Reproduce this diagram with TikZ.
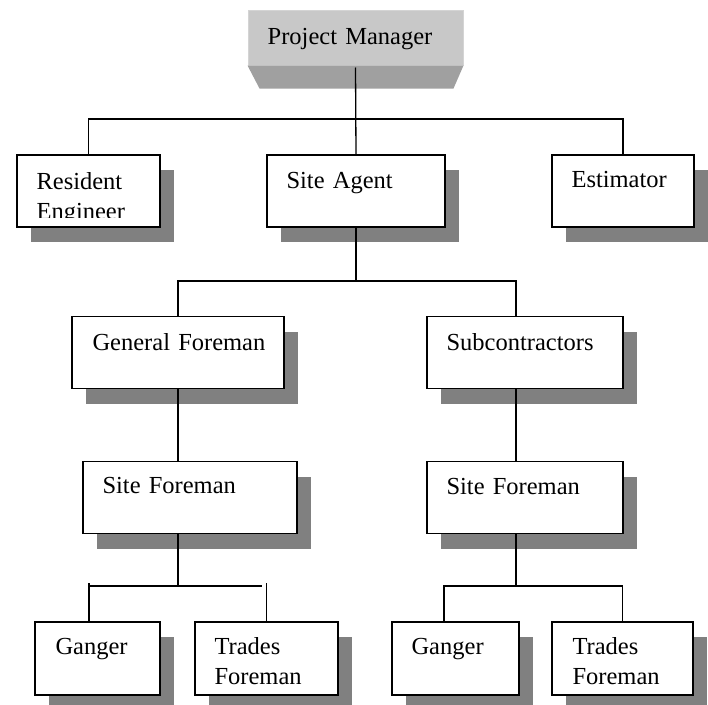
\documentclass[tikz,border=0pt]{standalone}
\usepackage{fontspec}
\setmainfont{Liberation Serif}
\usetikzlibrary{shadows}
\definecolor{shadowgray}{HTML}{808080}
\definecolor{pmfill}{HTML}{C8C8C8}
\definecolor{pmedge}{HTML}{D4D4D4}
\definecolor{pmshade}{HTML}{A0A0A0}
\begin{document}
\begin{tikzpicture}[x=1pt,y=-1pt,
  box/.style={draw=black, line width=1.3pt, fill=white, inner sep=0pt,
    minimum height=72pt,
    drop shadow={shadow xshift=14pt, shadow yshift=-15pt, fill=shadowgray, opacity=1}},
  pmbox/.style={draw=pmedge, line width=1pt, fill=pmfill, inner sep=0pt,
    minimum width=215pt, minimum height=55pt},
  lbl/.style={anchor=base west, inner sep=0pt, font=\fontsize{24.5}{30}\selectfont,
    text width=240pt, align=left},
  link/.style={line width=1.3pt}]
\useasboundingbox (0,0) rectangle (708,704);
% top box
\node[pmbox] (pm) at (355.5,37.5) {};
\fill[pmshade] (pm.south west) -- ([shift={(12,23)}]pm.south west)
  -- ([shift={(-10,23)}]pm.south east) -- (pm.south east) -- cycle;
\node[lbl] (pmt) at ([shift={(20,35)}]pm.north west) {Project Manager};
% level 2
\node[box, minimum width=143pt] (re) at (88.5,191) {};
\node[box, minimum width=178pt] (sa) at (356,191) {};
\node[box, minimum width=142pt] (est) at (623,191) {};
% level 3
\node[box, minimum width=212pt] (gf) at (178,352.5) {};
\node[box, minimum width=196pt] (sub) at (525,352.5) {};
% level 4
\node[box, minimum width=214pt] (sfl) at (190,497.5) {};
\node[box, minimum width=196pt] (sfr) at (525,497.5) {};
% level 5
\node[box, minimum width=125pt, minimum height=73pt] (gl) at (97.5,658.5) {};
\node[box, minimum width=143pt, minimum height=73pt] (tl) at (266.5,658.5) {};
\node[box, minimum width=127pt, minimum height=73pt] (gr) at (455.5,658.5) {};
\node[box, minimum width=141pt, minimum height=73pt] (tr) at (622.5,658.5) {};
% labels
\begin{scope}
\clip (re.north west) rectangle ([shift={(0,-10)}]re.south east);
\node[lbl] (ret) at ([shift={(20,35)}]re.north west) {Resident\\Engineer};
\end{scope}
\node[lbl] (sat) at ([shift={(20,34)}]sa.north west) {Site Agent};
\node[lbl] (estt) at ([shift={(20,33)}]est.north west) {Estimator};
\node[lbl] (gft) at ([shift={(21,35)}]gf.north west) {General Foreman};
\node[lbl] (subt) at ([shift={(20,35)}]sub.north west) {Subcontractors};
\node[lbl] (sflt) at ([shift={(20,33)}]sfl.north west) {Site Foreman};
\node[lbl] (sfrt) at ([shift={(20,34)}]sfr.north west) {Site Foreman};
\node[lbl] (glt) at ([shift={(21,33)}]gl.north west) {Ganger};
\node[lbl] (tlt) at ([shift={(20,33)}]tl.north west) {Trades\\Foreman};
\node[lbl] (grt) at ([shift={(20,33)}]gr.north west) {Ganger};
\node[lbl] (trt) at ([shift={(21,33)}]tr.north west) {Trades\\Foreman};
% connectors
\coordinate (bus1) at (356,119);
\coordinate (bus2) at (356,281);
\coordinate (bus3l) at (178,586);
\coordinate (bus3r) at (516,586);
\draw[link] ([yshift=-2pt]pm.south) -- (sa.north);
\draw[link] (re.north) |- (bus1) -| (est.north);
\draw[link] (sa.south) -- (bus2);
\draw[link] (gf.north) |- (bus2) -| ([xshift=-9pt]sub.north);
\draw[link] (gf.south) -- (gf.south |- sfl.north);
\draw[link] ([xshift=-9pt]sub.south) -- ([xshift=-9pt]sfr.north);
\draw[link] (sfl.south -| gf.south) -- (bus3l);
\draw[link] ([xshift=-8.5pt]gl.north) -- ++(0,-38);
\draw[link] ([xshift=-8.5pt]gl.north |- bus3l) -- ([xshift=-4.5pt]tl.north |- bus3l);
\draw[link] (tl.north) -- ++(0,-38);
\draw[link] ([xshift=-9pt]sfr.south) -- (bus3r);
\draw[link] ([xshift=-11.5pt]gr.north) |- (bus3r) -| (tr.north);
\end{tikzpicture}
\end{document}
